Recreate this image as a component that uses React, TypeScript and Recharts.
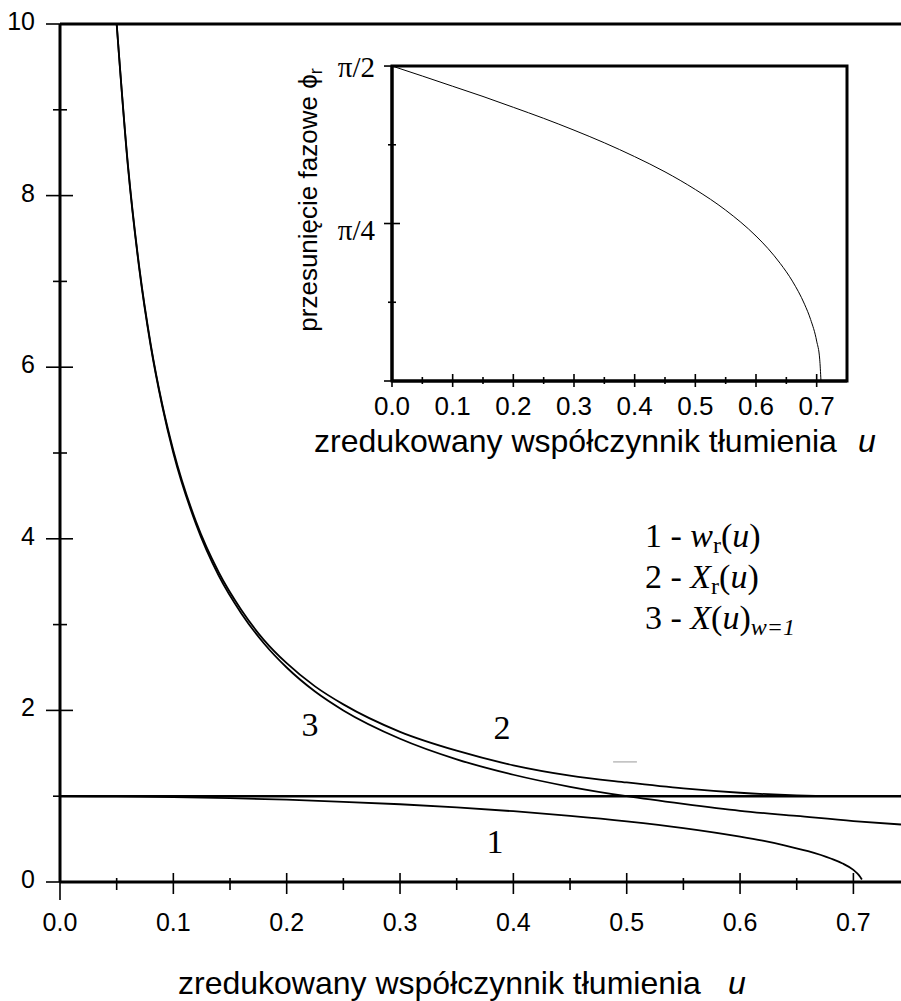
import React from "react";
import {
  LineChart,
  Line,
  XAxis,
  YAxis,
  ReferenceLine,
  ReferenceArea,
} from "recharts";

// main plot: reduced damping u vs values
const uMain = [0.05, 0.06, 0.07, 0.08, 0.09, 0.1, 0.12, 0.14, 0.16, 0.18, 0.2, 0.225, 0.25, 0.3, 0.35, 0.4, 0.45, 0.5, 0.55, 0.6, 0.65, 0.7, 0.742];
const xrVals = [10.0, 8.35, 7.16, 6.27, 5.58, 5.03, 4.2, 3.61, 3.17, 2.82, 2.55, 2.28, 2.07, 1.75, 1.53, 1.36, 1.24, 1.16, 1.09, 1.04, 1.01, 1.0, 1.005];
const xw1Vals = [10.0, 8.33, 7.14, 6.25, 5.56, 5.0, 4.17, 3.57, 3.13, 2.78, 2.5, 2.22, 2.0, 1.67, 1.43, 1.25, 1.11, 1.0, 0.91, 0.83, 0.77, 0.71, 0.67];

const uW = [0, 0.05, 0.1, 0.15, 0.2, 0.25, 0.3, 0.35, 0.4, 0.45, 0.5, 0.55, 0.6, 0.62, 0.64, 0.66, 0.68, 0.69, 0.7, 0.705, 0.7075];
const wrVals = [1.0, 0.997, 0.99, 0.977, 0.959, 0.935, 0.906, 0.869, 0.825, 0.771, 0.707, 0.629, 0.529, 0.481, 0.425, 0.359, 0.274, 0.219, 0.141, 0.077, 0.03];

// inset: phase shift
const uPhi = [0, 0.05, 0.1, 0.15, 0.2, 0.25, 0.3, 0.35, 0.4, 0.45, 0.5, 0.55, 0.6, 0.62, 0.64, 0.66, 0.68, 0.69, 0.7, 0.705, 0.7071];
const phiVals = [1.571, 1.521, 1.47, 1.419, 1.365, 1.31, 1.251, 1.188, 1.119, 1.043, 0.955, 0.852, 0.723, 0.66, 0.586, 0.498, 0.383, 0.307, 0.199, 0.109, 0];

const xTicks = [0, 0.05, 0.1, 0.15, 0.2, 0.25, 0.3, 0.35, 0.4, 0.45, 0.5, 0.55, 0.6, 0.65, 0.7];
const yTicks = [0, 1, 2, 3, 4, 5, 6, 7, 8, 9, 10];
const phiTicks = [0, 0.3927, 0.7854, 1.1781, 1.5708];
const phiLabels: Record<string, string> = { "0.7854": "π/4", "1.5708": "π/2" };

const xrData = uMain.map((u, i) => ({ u, v: xrVals[i] }));
const xw1Data = uMain.map((u, i) => ({ u, v: xw1Vals[i] }));
const wrData = uW.map((u, i) => ({ u, v: wrVals[i] }));
const phiData = uPhi.map((u, i) => ({ u, v: phiVals[i] }));

const SANS = "'Liberation Sans', Arial, sans-serif";
const SERIF = "'Liberation Serif', 'Times New Roman', serif";

const isMajor = (v: number, step: number) => Math.abs(v / step - Math.round(v / step)) < 1e-6;

const MainXTick = ({ x, y, payload }: any) => {
  const v = payload.value;
  const major = isMajor(v, 0.1);
  return (
    <g>
      <line x1={x} x2={x} y1={major ? y - 9 : y - 4} y2={v === 0 ? y + 18 : major ? y + 12 : y + 8} stroke="#000" strokeWidth={1.6} />
      {major && (
        <text x={x} y={y + 49} textAnchor="middle" fontSize={25} fontFamily={SANS} fill="#000">
          {v.toFixed(1)}
        </text>
      )}
    </g>
  );
};

const MainYTick = ({ x, y, payload }: any) => {
  const v = payload.value;
  const major = v % 2 === 0;
  return (
    <g>
      <line x1={major ? x - 14 : x - 7} x2={major ? x + 13 : x + 7} y1={y} y2={y} stroke="#000" strokeWidth={1.6} />
      {major && (
        <text x={x - 25} y={y + 6} textAnchor="end" fontSize={25} fontFamily={SANS} fill="#000">
          {v}
        </text>
      )}
    </g>
  );
};

const InsetXTick = ({ x, y, payload }: any) => {
  const v = payload.value;
  const major = isMajor(v, 0.1);
  return (
    <g>
      <line x1={x} x2={x} y1={major ? y - 7 : y - 4} y2={major ? y + 6 : y + 3} stroke="#000" strokeWidth={1.6} />
      {major && (
        <text x={x} y={y + 34} textAnchor="middle" fontSize={26} fontFamily={SANS} fill="#000">
          {v.toFixed(1)}
        </text>
      )}
    </g>
  );
};

const InsetYTick = ({ x, y, payload }: any) => {
  const v = payload.value;
  const label = phiLabels[v.toFixed(4)];
  const major = v === 0 || !!label;
  return (
    <g>
      <line x1={major ? x - 8 : x - 4} x2={major ? x + 8 : x + 4} y1={y} y2={y} stroke="#000" strokeWidth={1.6} />
      {label && (
        <text x={x - 17} y={label === "π/2" ? y + 11 : y + 16} textAnchor="end" fontSize={29} fontFamily={SERIF} fill="#000">
          {label}
        </text>
      )}
    </g>
  );
};

export default function App() {
  return (
    <div style={{ position: "absolute", left: 0, top: 0, width: 901, height: 1001, background: "#fff" }}>
      <div style={{ position: "absolute", left: 0, top: 0 }}>
        <LineChart width={901} height={1001} margin={{ top: 24, right: 0, bottom: 0, left: 0 }}>
          <XAxis
            type="number"
            dataKey="u"
            domain={[0, 0.742]}
            ticks={xTicks}
            interval={0}
            height={119}
            tickSize={0}
            tickMargin={0}
            tickLine={false}
            tick={(p: any) => <MainXTick {...p} />}
            axisLine={{ stroke: "#000", strokeWidth: 3 }}
            allowDataOverflow
          />
          <YAxis
            type="number"
            domain={[0, 10]}
            ticks={yTicks}
            interval={0}
            width={60}
            tickSize={0}
            tickMargin={0}
            tickLine={false}
            tick={(p: any) => <MainYTick {...p} />}
            axisLine={{ stroke: "#000", strokeWidth: 3 }}
          />
          <ReferenceLine y={10} stroke="#000" strokeWidth={3} />
          <ReferenceLine y={1} stroke="#000" strokeWidth={2.5} />
          <ReferenceLine segment={[{ x: 0.488, y: 1.4 }, { x: 0.509, y: 1.4 }]} stroke="#bbb" strokeWidth={1.5} />
          <Line data={xw1Data} dataKey="v" type="monotone" stroke="#000" strokeWidth={1.8} dot={false} activeDot={false} isAnimationActive={false} />
          <Line data={xrData} dataKey="v" type="monotone" stroke="#000" strokeWidth={1.8} dot={false} activeDot={false} isAnimationActive={false} />
          <Line data={wrData} dataKey="v" type="monotone" stroke="#000" strokeWidth={1.8} dot={false} activeDot={false} isAnimationActive={false} />
        </LineChart>
      </div>

      <div style={{ position: "absolute", left: 280, top: 40 }}>
        <LineChart width={600} height={420} margin={{ top: 26, right: 33, bottom: 0, left: 0 }}>
          <XAxis
            type="number"
            dataKey="u"
            domain={[0, 0.75]}
            ticks={xTicks}
            interval={0}
            height={79}
            tickSize={0}
            tickMargin={0}
            tickLine={false}
            tick={(p: any) => <InsetXTick {...p} />}
            axisLine={{ stroke: "#000", strokeWidth: 3 }}
          />
          <YAxis
            type="number"
            domain={[0, 1.5708]}
            ticks={phiTicks}
            interval={0}
            width={112}
            tickSize={0}
            tickMargin={0}
            tickLine={false}
            tick={(p: any) => <InsetYTick {...p} />}
            axisLine={{ stroke: "#000", strokeWidth: 3 }}
          />
          <ReferenceArea x1={0} x2={0.75} y1={0} y2={1.5708} fill="none" stroke="#000" strokeWidth={3} ifOverflow="visible" />
          <Line data={phiData} dataKey="v" type="monotone" stroke="#000" strokeWidth={1} dot={false} activeDot={false} isAnimationActive={false} />
        </LineChart>
      </div>

      <svg width={901} height={1001} style={{ position: "absolute", left: 0, top: 0, pointerEvents: "none" }}>
        {/* inset y label */}
        <text transform="translate(317,200) rotate(-90)" textAnchor="middle" fontSize={26} fontFamily={SANS} fill="#000">
          przesunięcie fazowe ϕ<tspan fontSize={18} dy={5}>r</tspan>
        </text>
        {/* inset x label */}
        <text x={314} y={452} fontSize={32} fontFamily={SANS} fill="#000">zredukowany współczynnik tłumienia</text>
        <text x={858} y={452} fontSize={32} fontFamily={SANS} fontStyle="italic" fill="#000">u</text>
        {/* main x label */}
        <text x={178} y={994} fontSize={32} fontFamily={SANS} fill="#000">zredukowany współczynnik tłumienia</text>
        <text x={728} y={994} fontSize={32} fontFamily={SANS} fontStyle="italic" fill="#000">u</text>

        {/* legend */}
        <g fontFamily={SERIF} fontSize={34} fill="#000">
          <text x={645} y={547}>
            1 - <tspan fontStyle="italic">w</tspan>
            <tspan fontSize={24} dy={6}>r</tspan>
            <tspan dy={-6}>(</tspan>
            <tspan fontStyle="italic">u</tspan>)
          </text>
          <text x={645} y={588}>
            2 - <tspan fontStyle="italic">X</tspan>
            <tspan fontSize={24} dy={6}>r</tspan>
            <tspan dy={-6}>(</tspan>
            <tspan fontStyle="italic">u</tspan>)
          </text>
          <text x={645} y={629}>
            3 - <tspan fontStyle="italic">X</tspan>(<tspan fontStyle="italic">u</tspan>)
            <tspan fontSize={24} dy={6} fontStyle="italic">w=1</tspan>
          </text>
        </g>

        {/* curve numbers */}
        <g fontFamily={SERIF} fontSize={34} fill="#000" textAnchor="middle">
          <text x={310} y={736}>3</text>
          <text x={502} y={739}>2</text>
          <text x={495} y={853}>1</text>
        </g>
      </svg>
    </div>
  );
}
